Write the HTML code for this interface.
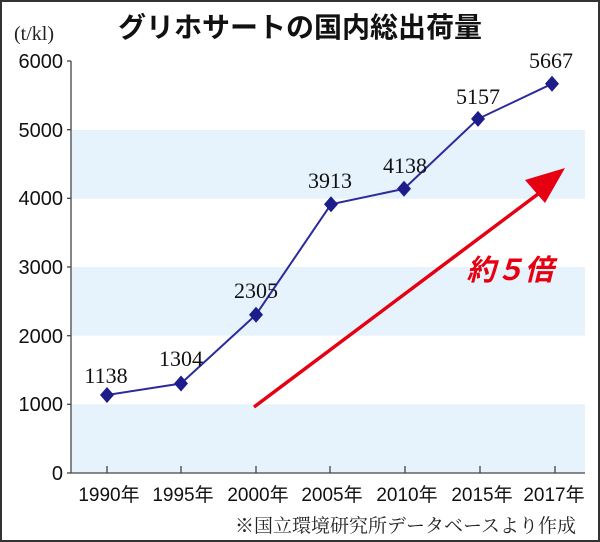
<!DOCTYPE html>
<html><head><meta charset="utf-8"><style>
html,body{margin:0;padding:0;background:#fff;}
svg{display:block;}
</style></head><body>
<svg width="600" height="542" viewBox="0 0 600 542" xmlns="http://www.w3.org/2000/svg">
<rect x="1" y="1" width="598" height="540" fill="#fff" stroke="#333" stroke-width="2"/>
<g fill="#e6f3fc">
<rect x="72" y="130" width="513" height="68.7"/>
<rect x="72" y="267" width="513" height="68.7"/>
<rect x="72" y="404.3" width="513" height="68.7"/>
</g>
<g stroke="#444" stroke-width="1.3" fill="none">
<line x1="71" y1="61" x2="71" y2="473"/>
<line x1="71" y1="473" x2="585" y2="473"/>
<line x1="67" y1="61" x2="71" y2="61"/><line x1="67" y1="129.7" x2="71" y2="129.7"/>
<line x1="67" y1="198.3" x2="71" y2="198.3"/><line x1="67" y1="267" x2="71" y2="267"/>
<line x1="67" y1="335.7" x2="71" y2="335.7"/><line x1="67" y1="404.3" x2="71" y2="404.3"/>
<line x1="67" y1="473" x2="71" y2="473"/>
<line x1="107" y1="466" x2="107" y2="473"/><line x1="181" y1="466" x2="181" y2="473"/>
<line x1="256" y1="466" x2="256" y2="473"/><line x1="330" y1="466" x2="330" y2="473"/>
<line x1="405" y1="466" x2="405" y2="473"/><line x1="480" y1="466" x2="480" y2="473"/>
<line x1="555" y1="466" x2="555" y2="473"/>
</g>
<g font-family="Liberation Sans, sans-serif" font-size="20" fill="#111" text-anchor="end">
<text x="63" y="68">6000</text><text x="63" y="137">5000</text>
<text x="63" y="205">4000</text><text x="63" y="274">3000</text>
<text x="63" y="343">2000</text><text x="63" y="411">1000</text>
<text x="63" y="480">0</text>
</g>
<text x="14" y="40" font-family="Liberation Serif, serif" font-size="20" fill="#222">(t/kl)</text>
<text x="300" y="37" text-anchor="middle" font-family="Liberation Sans, 'Noto Sans CJK JP', sans-serif" font-size="28" font-weight="bold" fill="#111">グリホサートの国内総出荷量</text>
<g font-family="Liberation Sans, 'Noto Sans CJK JP', sans-serif" font-size="19" fill="#111" text-anchor="middle">
<text x="109" y="501">1990年</text><text x="183" y="501">1995年</text>
<text x="258" y="501">2000年</text><text x="332" y="501">2005年</text>
<text x="407" y="501">2010年</text><text x="482" y="501">2015年</text>
<text x="554" y="501">2017年</text>
</g>
<text x="576" y="532" text-anchor="end" font-family="Liberation Serif, 'Noto Serif CJK SC', serif" font-size="19" fill="#222">※国立環境研究所データベースより作成</text>
<polyline fill="none" stroke="#2b2b9a" stroke-width="2" points="107,395 181,383.5 256,314.7 331,204.3 404,188.8 478,118.9 552,83.8"/>
<g fill="#1c1c8a">
<path d="M107,387 L114,395 L107,403 L100,395Z"/>
<path d="M181,375.5 L188,383.5 L181,391.5 L174,383.5Z"/>
<path d="M256,306.7 L263,314.7 L256,322.7 L249,314.7Z"/>
<path d="M331,196.3 L338,204.3 L331,212.3 L324,204.3Z"/>
<path d="M404,180.8 L411,188.8 L404,196.8 L397,188.8Z"/>
<path d="M478,110.9 L485,118.9 L478,126.9 L471,118.9Z"/>
<path d="M552,75.8 L559,83.8 L552,91.8 L545,83.8Z"/>
</g>
<g font-family="Liberation Serif, serif" font-size="22" fill="#111" text-anchor="middle">
<text x="106" y="383">1138</text><text x="181" y="366">1304</text>
<text x="256" y="298">2305</text><text x="330" y="188">3913</text>
<text x="405" y="173">4138</text><text x="478" y="104">5157</text>
<text x="551" y="68">5667</text>
</g>
<line x1="254" y1="407" x2="538" y2="194" stroke="#e60012" stroke-width="3.5"/>
<path d="M565,168 L525,180 L545,203Z" fill="#e60012"/>
<text x="510" y="280" text-anchor="middle" font-family="Liberation Sans, 'Noto Sans CJK JP', sans-serif" font-size="29" font-weight="bold" font-style="italic" fill="#e60012">約５倍</text>
</svg>
</body></html>
